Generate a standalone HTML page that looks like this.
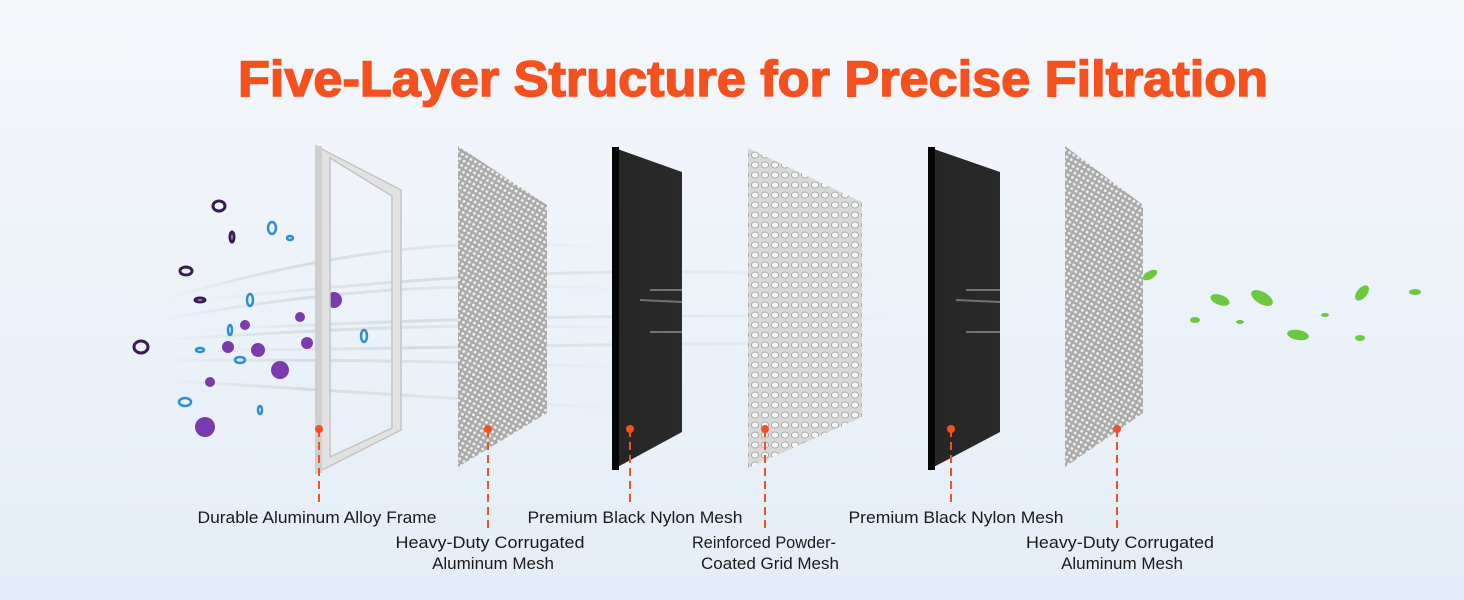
<!DOCTYPE html>
<html><head><meta charset="utf-8"><style>
html,body{margin:0;padding:0;width:1464px;height:600px;overflow:hidden;background:#eef3f9}
svg{display:block}
</style></head><body>
<svg width="1464" height="600" viewBox="0 0 1464 600" xmlns="http://www.w3.org/2000/svg">
<defs>
<linearGradient id="bg" x1="0" y1="0" x2="0" y2="1">
<stop offset="0" stop-color="#f5f7fb"/><stop offset="1" stop-color="#e4edf7"/>
</linearGradient>
<pattern id="mesh" width="5" height="5" patternUnits="userSpaceOnUse" patternTransform="rotate(30)">
<rect width="5" height="5" fill="#a9a9a9"/><circle cx="2.5" cy="2.5" r="1.5" fill="#ededed"/>
</pattern>
<pattern id="grid" width="10" height="10" patternUnits="userSpaceOnUse">
<rect width="10" height="10" fill="#d8d8d8"/><ellipse cx="5" cy="5" rx="3.6" ry="3" fill="#f6f6f6" stroke="#9a9a9a" stroke-width="0.8"/>
</pattern>
<linearGradient id="blk" x1="0" y1="0" x2="1" y2="0">
<stop offset="0" stop-color="#111"/><stop offset="0.1" stop-color="#262626"/><stop offset="1" stop-color="#2a2a2a"/>
</linearGradient>
<linearGradient id="streak" x1="0" y1="0" x2="1" y2="0">
<stop offset="0" stop-color="#c5cfcc" stop-opacity="0"/><stop offset="0.3" stop-color="#c5cfcc" stop-opacity="0.6"/><stop offset="1" stop-color="#c5cfcc" stop-opacity="0"/>
</linearGradient>
</defs>
<rect width="1464" height="600" fill="url(#bg)"/>
<g fill="none" stroke="url(#streak)" stroke-width="3">
<path d="M160 300 C300 260 450 230 620 250"/>
<path d="M160 320 C320 290 460 280 640 290"/>
<path d="M160 340 C320 330 480 320 660 330"/>
<path d="M160 360 C320 360 480 360 660 370"/>
<path d="M160 380 C320 390 480 400 640 410"/>
<path d="M200 300 C400 280 600 260 900 280"/>
<path d="M200 330 C400 320 700 310 900 320"/>
<path d="M200 350 C400 350 700 340 900 345"/>
</g>
<text x="753" y="96" text-anchor="middle" font-family="Liberation Sans, sans-serif" font-weight="bold" font-size="50" fill="#f4511e" stroke="#f4511e" stroke-width="1.5" textLength="1030" lengthAdjust="spacingAndGlyphs">Five-Layer Structure for Precise Filtration</text>
<g fill="none" stroke="#2c8fd0" stroke-width="2.5">
<ellipse cx="272" cy="228" rx="4" ry="6"/><ellipse cx="364" cy="336" rx="3" ry="6"/><ellipse cx="185" cy="402" rx="6" ry="4"/>
<ellipse cx="250" cy="300" rx="3" ry="6"/><ellipse cx="240" cy="360" rx="5" ry="3"/><ellipse cx="290" cy="238" rx="3" ry="2"/>
<ellipse cx="230" cy="330" rx="2" ry="5"/><ellipse cx="260" cy="410" rx="2" ry="4"/><ellipse cx="200" cy="350" rx="4" ry="2"/>
</g>
<g fill="none" stroke="#3b1c50" stroke-width="3">
<ellipse cx="219" cy="206" rx="6" ry="5"/><ellipse cx="141" cy="347" rx="7" ry="6"/><ellipse cx="186" cy="271" rx="6" ry="4"/>
<ellipse cx="232" cy="237" rx="2" ry="5"/><ellipse cx="200" cy="300" rx="5" ry="2"/>
</g>
<g fill="#7b3bb0">
<circle cx="205" cy="427" r="10"/><circle cx="280" cy="370" r="9"/><circle cx="258" cy="350" r="7"/><circle cx="228" cy="347" r="6"/>
<circle cx="334" cy="300" r="8"/><circle cx="307" cy="343" r="6"/><circle cx="210" cy="382" r="5"/><circle cx="300" cy="317" r="5"/><circle cx="245" cy="325" r="5"/>
</g>
<g fill="#6cc83e">
<ellipse cx="1150" cy="275" rx="8" ry="4" transform="rotate(-30 1150 275)"/>
<ellipse cx="1220" cy="300" rx="10" ry="5" transform="rotate(20 1220 300)"/>
<ellipse cx="1262" cy="298" rx="12" ry="6" transform="rotate(30 1262 298)"/>
<ellipse cx="1298" cy="335" rx="11" ry="5" transform="rotate(10 1298 335)"/>
<ellipse cx="1362" cy="293" rx="9" ry="5" transform="rotate(-50 1362 293)"/>
<ellipse cx="1110" cy="325" rx="10" ry="5" transform="rotate(-20 1110 325)"/>
<ellipse cx="1195" cy="320" rx="5" ry="3"/><ellipse cx="1415" cy="292" rx="6" ry="3"/><ellipse cx="1325" cy="315" rx="4" ry="2"/>
<ellipse cx="1360" cy="338" rx="5" ry="3"/><ellipse cx="1240" cy="322" rx="4" ry="2"/>
</g>
<path d="M316 146 L401 190 L401 430 L316 473 Z M330 158 L392 196 L392 428 L330 457 Z" fill="#e2e2e2" fill-rule="evenodd" stroke="#c4c4c4" stroke-width="1.5"/>
<path d="M316 146 L322 146 L322 473 L316 473 Z" fill="#cfcfcf"/>
<path d="M458 146 L547 205 L547 413 L458 467 Z" fill="url(#mesh)"/>
<path d="M612 147 L682 172 L682 432 L612 470 Z" fill="url(#blk)"/>
<path d="M612 147 L619 147 L619 470 L612 470 Z" fill="#050505"/>
<path d="M748 148 L862 202 L862 417 L748 468 Z" fill="url(#grid)"/>
<path d="M928 147 L1000 172 L1000 432 L928 470 Z" fill="url(#blk)"/>
<path d="M928 147 L935 147 L935 470 L928 470 Z" fill="#050505"/>
<path d="M1065 146 L1143 205 L1143 413 L1065 467 Z" fill="url(#mesh)"/>
<g stroke="#bbb" stroke-width="2" opacity="0.5">
<line x1="650" y1="290" x2="682" y2="290"/><line x1="640" y1="300" x2="682" y2="302"/><line x1="650" y1="332" x2="682" y2="332"/>
<line x1="966" y1="290" x2="1000" y2="290"/><line x1="956" y1="300" x2="1000" y2="302"/><line x1="966" y1="332" x2="1000" y2="332"/>
</g>
<g stroke="#f4511e" stroke-width="2" stroke-dasharray="8 5">
<line x1="319" y1="429" x2="319" y2="506"/>
<line x1="488" y1="429" x2="488" y2="530"/>
<line x1="630" y1="429" x2="630" y2="506"/>
<line x1="765" y1="429" x2="765" y2="530"/>
<line x1="951" y1="429" x2="951" y2="506"/>
<line x1="1117" y1="429" x2="1117" y2="530"/>
</g>
<g fill="#f4511e">
<circle cx="319" cy="429" r="4"/><circle cx="488" cy="429" r="4"/><circle cx="630" cy="429" r="4"/>
<circle cx="765" cy="429" r="4"/><circle cx="951" cy="429" r="4"/><circle cx="1117" cy="429" r="4"/>
</g>
<g font-family="Liberation Sans, sans-serif" font-size="17" fill="#1a1a1a" text-anchor="middle">
<text x="317" y="523" textLength="239" lengthAdjust="spacingAndGlyphs">Durable Aluminum Alloy Frame</text>
<text x="490" y="548" textLength="189" lengthAdjust="spacingAndGlyphs">Heavy-Duty Corrugated</text>
<text x="493" y="569">Aluminum Mesh</text>
<text x="635" y="523" textLength="215" lengthAdjust="spacingAndGlyphs">Premium Black Nylon Mesh</text>
<text x="764" y="548" textLength="144" lengthAdjust="spacingAndGlyphs">Reinforced Powder-</text>
<text x="770" y="569">Coated Grid Mesh</text>
<text x="956" y="523" textLength="215" lengthAdjust="spacingAndGlyphs">Premium Black Nylon Mesh</text>
<text x="1120" y="548" textLength="188" lengthAdjust="spacingAndGlyphs">Heavy-Duty Corrugated</text>
<text x="1122" y="569">Aluminum Mesh</text>
</g>
</svg>
</body></html>
